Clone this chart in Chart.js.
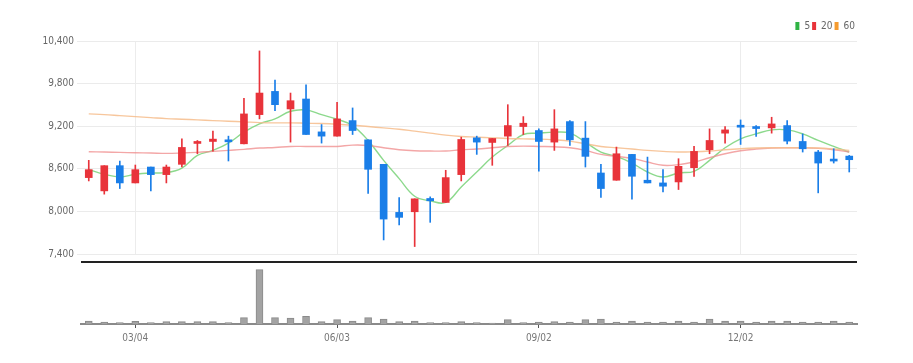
<!DOCTYPE html>
<html>
<head>
<meta charset="utf-8">
<script src="https://cdn.jsdelivr.net/npm/chart.js@4.4.1/dist/chart.umd.min.js"></script>
<style>
  html, body { margin: 0; padding: 0; background: #fff; }
  #wrap { position: relative; width: 913px; height: 363px; overflow: hidden; }
  #wrap canvas { position: absolute; left: 0; top: 0; }
</style>
</head>
<body>
<div id="wrap">
  <canvas id="price" width="913" height="363"></canvas>
  <canvas id="volume" width="913" height="363"></canvas>
</div>
<script>
// ---- data (weekly candles) ----
const categories = ['02/12','02/19','02/26','03/04','03/11','03/18','03/25','04/01','04/08','04/15',
  '04/22','04/29','05/06','05/13','05/20','05/27','06/03','06/10','06/17','06/24',
  '07/01','07/08','07/15','07/22','07/29','08/05','08/12','08/19','08/26','09/02',
  '09/09','09/16','09/23','09/30','10/07','10/14','10/21','10/28','11/04','11/11',
  '11/18','11/25','12/02','12/09','12/16','12/23','12/30','01/06','01/13','01/20'];
const tickLabels = ['03/04','06/03','09/02','12/02'];
const yTicks = [7400, 8000, 8600, 9200, 9800, 10400];

const openPrices  = [8476,8289,8644,8401,8625,8518,8663,8957,8985,9000,8952,9363,9690,9443,9583,9120,9060,9279,9008,8663,
  7986,7995,8182,8126,8518,9036,8971,9060,9195,9139,8976,9265,9032,8541,8439,8803,8439,8401,8415,8616,
  8868,9102,9204,9190,9176,9209,8985,8836,8733,8779];
const highPrices  = [8719,8644,8709,8653,8625,8653,9022,8999,9130,9060,9592,10260,9849,9667,9784,9223,9536,9457,9008,8663,
  8196,8177,8205,8579,9046,9060,9027,9503,9335,9162,9433,9279,9265,8663,8906,8803,8765,8588,8742,8915,
  9162,9195,9288,9209,9326,9279,9092,8859,8882,8789];
const lowPrices   = [8429,8243,8322,8401,8289,8401,8625,8812,8850,8710,8952,9303,9419,8976,9083,8962,9060,9083,8252,7598,
  7808,7505,7846,8126,8429,8803,8649,8929,9083,8565,8859,8929,8625,8196,8439,8172,8401,8275,8308,8494,
  8812,8962,8943,9055,9102,8952,8836,8261,8681,8555];
const closePrices = [8588,8644,8401,8588,8518,8625,8901,8985,9018,8980,9373,9667,9503,9559,9083,9060,9303,9139,8593,7892,
  7916,8177,8149,8476,9013,8976,9027,9209,9242,8985,9162,9008,8775,8322,8812,8495,8401,8355,8635,8845,
  8999,9148,9186,9167,9232,8990,8882,8681,8709,8728];

const ma5  = [8588,8523,8485,8523,8541,8546,8611,8789,8859,8962,9116,9233,9303,9410,9429,9363,9298,9209,8999,8719,
  8462,8214,8149,8126,8345,8555,8765,8929,9083,9102,9116,9102,8976,8836,8775,8681,8555,8485,8541,8565,
  8719,8896,9022,9092,9148,9148,9092,8999,8915,8836];
const ma20 = [8840,8836,8831,8826,8822,8817,8822,8831,8845,8859,8873,8892,8901,8915,8915,8915,8915,8934,8929,8896,
  8868,8854,8850,8850,8868,8878,8896,8915,8920,8915,8910,8896,8859,8803,8775,8747,8695,8649,8658,8695,
  8756,8812,8854,8878,8892,8896,8896,8887,8868,8836];
const ma60 = [9373,9363,9349,9335,9321,9307,9298,9289,9279,9270,9261,9251,9247,9247,9242,9237,9228,9214,9195,9176,
  9158,9130,9102,9074,9055,9046,9036,9027,9022,9018,9008,8990,8952,8915,8896,8878,8859,8845,8836,8840,
  8850,8868,8882,8892,8896,8896,8896,8892,8878,8859];
const volume = [3000,2000,1300,2700,1300,2300,2300,2300,2300,1300,6300,54300,6300,6000,7700,2300,4300,3000,6300,5000,
  2300,3000,1300,1300,2300,1500,1000,4300,1300,2000,2300,2000,4300,5000,2000,3000,2000,2000,3000,2000,
  5000,3000,3000,2000,3000,3000,2000,2000,3000,2000];

// ---- styles ----
const UP = '#e8333a', DOWN = '#1a7ee8';
const FONT = "'Liberation Sans Narrow', 'DejaVu Sans Condensed', 'Roboto', sans-serif";
const candleColors = openPrices.map((o, i) => closePrices[i] >= o ? UP : DOWN);
const legendColors = ['#2fb344', '#e8333a', '#f59b2f'];
const isTick = (i) => tickLabels.includes(categories[i]);

const priceChart = new Chart(document.getElementById('price'), {
  data: {
    labels: categories,
    datasets: [
      { type: 'line', label: '5', data: ma5, borderColor: 'rgba(120,210,120,0.85)', backgroundColor: legendColors[0],
        borderWidth: 1.4, pointRadius: 0, tension: 0.4, order: 5 },
      { type: 'line', label: '20', data: ma20, borderColor: 'rgba(240,145,145,0.8)', backgroundColor: legendColors[1],
        borderWidth: 1.4, pointRadius: 0, tension: 0.4, order: 4 },
      { type: 'line', label: '60', data: ma60, borderColor: 'rgba(246,192,145,0.9)', backgroundColor: legendColors[2],
        borderWidth: 1.4, pointRadius: 0, tension: 0.4, order: 3 },
      { type: 'bar', label: 'wick', data: lowPrices.map((l, i) => [l, highPrices[i]]),
        backgroundColor: candleColors, barThickness: 1, grouped: false, order: 2 },
      { type: 'bar', label: 'body', data: openPrices.map((o, i) => [o, closePrices[i]]),
        backgroundColor: candleColors, barThickness: 7, minBarLength: 2, grouped: false, order: 1 }
    ]
  },
  options: {
    responsive: false,
    animation: false,
    layout: { padding: { top: 19, right: 56, bottom: 0, left: 0 } },
    plugins: {
      tooltip: { enabled: false },
      legend: {
        position: 'top', align: 'end',
        labels: {
          boxWidth: 4, boxHeight: 8, padding: 2, color: '#666',
          font: { size: 10, family: FONT },
          filter: (item) => item.datasetIndex < 3,
          generateLabels: (chart) => chart.data.datasets.map((d, i) => ({
            text: d.label, fillStyle: legendColors[i] || '#000', strokeStyle: legendColors[i] || '#000',
            lineWidth: 0, datasetIndex: i, hidden: false, fontColor: '#666'
          }))
        }
      }
    },
    scales: {
      x: {
        type: 'category', offset: true,
        grid: { offset: false, drawTicks: false,
          color: (ctx) => isTick(ctx.index) ? '#ececec' : 'rgba(0,0,0,0)' },
        border: { display: false },
        ticks: { display: false, autoSkip: false },
        afterFit: (s) => { s.height = 363 - 254; }
      },
      y: {
        min: 7400, max: 10400,
        afterBuildTicks: (s) => { s.ticks = yTicks.map(v => ({ value: v })); },
        grid: { color: '#ebebeb', tickLength: 4 },
        border: { display: false },
        ticks: { color: '#666', padding: 3, font: { size: 10, family: FONT },
          callback: (v) => v.toLocaleString('en-US') },
        afterFit: (s) => { s.width = 81; }
      }
    }
  }
});

const topLine = {
  id: 'topLine',
  afterDraw(chart) {
    const { ctx, chartArea } = chart;
    ctx.save();
    ctx.fillStyle = '#222';
    ctx.fillRect(chartArea.left, chartArea.top - 3, chartArea.right - chartArea.left, 2);
    ctx.restore();
  }
};

const volumeChart = new Chart(document.getElementById('volume'), {
  type: 'bar',
  data: {
    labels: categories,
    datasets: [{ label: 'volume', data: volume, backgroundColor: '#a3a3a3', borderColor: '#8a8a8a',
      borderWidth: 1, barThickness: 7, minBarLength: 1 }]
  },
  options: {
    responsive: false,
    animation: false,
    layout: { padding: { top: 264, right: 56, bottom: 0, left: 81 } },
    plugins: { legend: { display: false }, tooltip: { enabled: false } },
    scales: {
      x: {
        type: 'category', offset: true,
        grid: { offset: false, drawOnChartArea: false, tickLength: 4,
          tickColor: (ctx) => isTick(ctx.index) ? '#555' : 'rgba(0,0,0,0)' },
        border: { color: '#8a8a8a', width: 2 },
        ticks: { autoSkip: false, maxRotation: 0, color: '#777', padding: 4,
          font: { size: 10, family: FONT },
          callback: (v, i) => isTick(i) ? categories[i] : '' },
        afterFit: (s) => { s.height = 363 - 324; }
      },
      y: { display: false, min: 0, max: 60000 }
    }
  },
  plugins: [topLine]
});
</script>
</body>
</html>
